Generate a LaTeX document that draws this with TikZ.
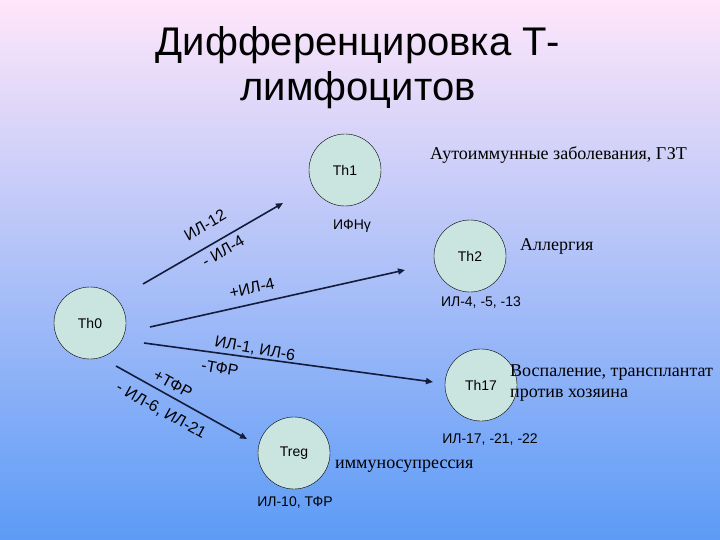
\documentclass[tikz,border=0pt]{standalone}
\usepackage{fontspec}
\setmainfont{Liberation Serif}
\setsansfont{Liberation Sans}
\usetikzlibrary{arrows.meta,positioning,calc}
\definecolor{BgTop}{RGB}{255,230,250}
\definecolor{BgMid}{RGB}{168,200,242}
\definecolor{BgBottom}{RGB}{92,155,246}
\definecolor{CellFill}{RGB}{202,228,224}
\definecolor{ArrowNavy}{RGB}{20,28,60}
\tikzset{
  cell/.style={circle, draw=black, thin, fill=CellFill, minimum size=72pt, inner sep=0pt, font=\sffamily\fontsize{14}{16}\selectfont},
  cyto/.style={font=\sffamily\fontsize{14}{16}\selectfont, inner sep=1pt},
  tilted/.style={font=\sffamily\fontsize{16}{18}\selectfont, inner sep=1pt},
  effect/.style={font=\rmfamily\fontsize{18}{21}\selectfont, inner sep=1pt, align=left},
  arr/.style={-{Triangle[length=7pt,width=6pt]}, line width=1.6pt, draw=ArrowNavy}
}
\begin{document}
\begin{tikzpicture}[x=1pt, y=-1pt]
\shade[top color=BgTop, middle color=BgMid, bottom color=BgBottom] (0,0) rectangle (720,540);
\useasboundingbox (0,0) rectangle (720,540);
% title
\node[font=\sffamily\fontsize{40}{45}\selectfont, align=center, anchor=base] (title) at (358,101) {Дифференцировка Т-\\лимфоцитов};
% cells
\node[cell] (th0) at (90,323) {Th0};
\node[cell] (th1) at (345,170) {Th1};
\node[cell] (th2) at (470,256) {Th2};
\node[cell] (th17) at (481,385) {Th17};
\node[cell] (treg) at (294,453) {Treg};
% products and effects
\node[cyto] (ifn) at (352,226) {ИФНγ};
\node[cyto] (il2) at (481,303) {ИЛ-4, -5, -13};
\node[cyto] (il17) at (490,440) {ИЛ-17, -21, -22};
\node[cyto] (il10) at (295,503) {ИЛ-10, ТФР};
\node[effect, anchor=west] (auto) at (429,155) {Аутоиммунные заболевания, ГЗТ};
\node[effect, anchor=west] (allerg) at (519,246) {Аллергия};
\node[effect, anchor=west] (inflam) at (509,383) {Воспаление, трансплантат\\против хозяина};
\node[effect, anchor=west] (supp) at (334,466) {иммуносупрессия};
% arrows
\coordinate (s1) at (143,284);
\coordinate (e1) at (283,203);
\coordinate (s2) at (150,327);
\coordinate (e2) at (405,270);
\coordinate (s3) at (144,343);
\coordinate (e3) at (433,382);
\coordinate (s4) at (116,366);
\coordinate (e4) at (247,439);
\draw[arr] (s1) -- (e1);
\draw[arr] (s2) -- (e2);
\draw[arr] (s3) -- (e3);
\draw[arr] (s4) -- (e4);
% inducing cytokines
\node[tilted, rotate=30] (l1a) at (205,225) {ИЛ-12};
\node[tilted, rotate=30] (l1b) at (223,251) {- ИЛ-4};
\node[tilted, rotate=12] (l2) at (252,288) {+ИЛ-4};
\node[tilted, rotate=-10] (l3a) at (255,349) {ИЛ-1, ИЛ-6};
\node[tilted, rotate=-10] (l3b) at (220,368) {-ТФР};
\node[tilted, rotate=-29] (l4a) at (173,384) {+ТФР};
\node[tilted, rotate=-29] (l4b) at (161,411) {- ИЛ-6, ИЛ-21};
\end{tikzpicture}
\end{document}
